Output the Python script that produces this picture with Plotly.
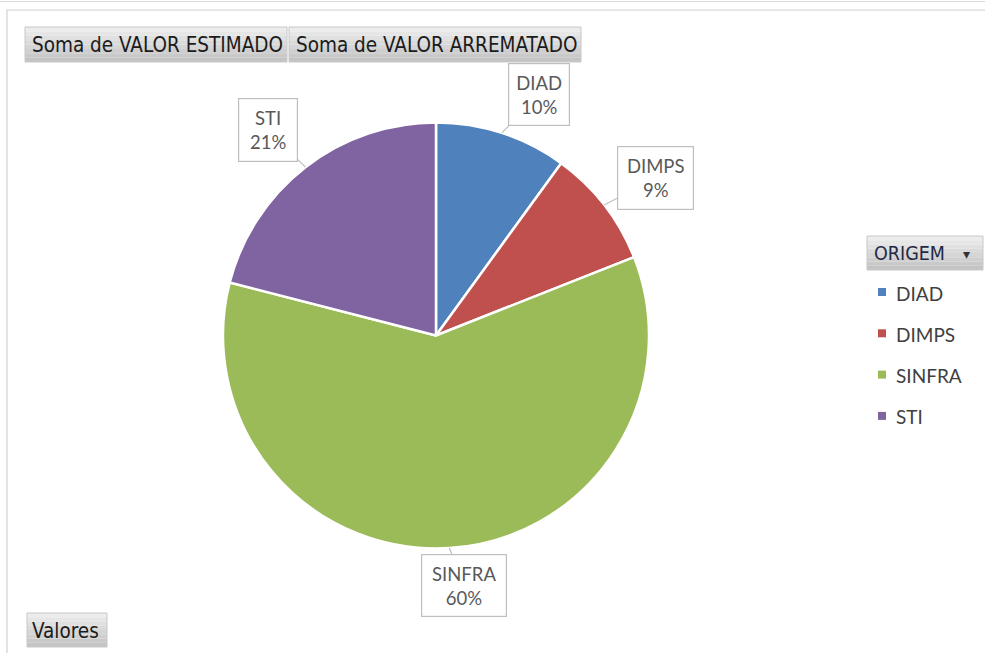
import math
import plotly.graph_objects as go

# --- data ---
categories = ["DIAD", "DIMPS", "SINFRA", "STI"]
shares = [10, 9, 60, 21]
colors = ["#4F81BD", "#C0504D", "#9BBB59", "#8064A2"]
value_fields = ["Soma de VALOR ESTIMADO", "Soma de VALOR ARREMATADO"]
legend_title = "ORIGEM"
axis_field = "Valores"

W, H = 985, 653


def px(x):
    return x / W


def py(y):
    return 1 - y / H


# pie geometry in page pixels
CX, CY, R = 436, 335.5, 213

fig = go.Figure(
    go.Pie(
        labels=categories,
        values=shares,
        marker=dict(colors=colors, line=dict(color="white", width=2.5)),
        sort=False,
        direction="clockwise",
        rotation=0,
        textinfo="none",
        hoverinfo="label+percent",
        showlegend=False,
        domain=dict(x=[px(CX - R), px(CX + R)], y=[py(CY + R), py(CY - R)]),
    )
)

shapes = []
annotations = []

# chart frame
shapes.append(dict(type="line", xref="paper", yref="paper", x0=0, x1=1,
                   y0=py(1.5), y1=py(1.5), line=dict(color="#d9d9d9", width=1)))
shapes.append(dict(type="rect", xref="paper", yref="paper", x0=px(7), x1=px(W + 5),
                   y0=py(H + 5), y1=py(10), line=dict(color="#d0d0d0", width=1.2)))

BTN_FONT = "DejaVu Sans Condensed"


def button(x0, y0, x1, y1, text, size=20.5, color="#1b1b1b", pad=5):
    # grey gradient field button, built from thin bands
    steps = 8
    top, bot = (236, 236, 236), (196, 196, 196)
    for i in range(steps):
        t = i / (steps - 1)
        c = tuple(int(top[k] + (bot[k] - top[k]) * t) for k in range(3))
        ya = y0 + (y1 - y0) * i / steps
        yb = y0 + (y1 - y0) * (i + 1) / steps
        shapes.append(dict(type="rect", xref="paper", yref="paper",
                           x0=px(x0), x1=px(x1), y0=py(yb), y1=py(ya),
                           fillcolor="rgb(%d,%d,%d)" % c, line=dict(width=0), layer="above"))
    shapes.append(dict(type="rect", xref="paper", yref="paper",
                       x0=px(x0), x1=px(x1), y0=py(y1), y1=py(y0),
                       line=dict(color="#c8c8c8", width=1), layer="above"))
    annotations.append(dict(
        xref="paper", yref="paper",
        x=px(x0 + pad), y=py((y0 + y1) / 2 + 1),
        text=text, showarrow=False, xanchor="left", yanchor="middle",
        font=dict(family=BTN_FONT, size=size, color=color)))


button(25, 27, 287, 62, value_fields[0])
button(289, 27, 581, 62, value_fields[1])
button(27, 613, 107, 647, axis_field, pad=3)
button(867, 236, 983, 270, legend_title, size=19.5, color="#1f2a44", pad=5)
annotations.append(dict(xref="paper", yref="paper", x=px(966), y=py(254),
                        text="\u25BE", showarrow=False, xanchor="center", yanchor="middle",
                        font=dict(family="DejaVu Sans", size=14, color="#333333")))

# callout labels: pointer tip on the rim at each slice's mid-angle
total = sum(shares)
box_offsets = [(37, -38), (51, -27), (15, 37), (-37, -37)]  # box centre relative to tip
box_sizes = [(62, 63), (77, 64), (86, 63), (60, 64)]
cum = 0
for cat, v, (ox, oy), (bw, bh) in zip(categories, shares, box_offsets, box_sizes):
    mid = (cum + v / 2) / total * 2 * math.pi
    cum += v
    tx = CX + R * math.sin(mid)
    ty = CY - R * math.cos(mid)
    annotations.append(dict(
        xref="paper", yref="paper", x=px(tx), y=py(ty),
        ax=ox, ay=oy, axref="pixel", ayref="pixel",
        text="%s<br>%d%%" % (cat, round(v / total * 100)),
        showarrow=True, arrowhead=0, arrowwidth=1.2, arrowcolor="#bfbfbf", standoff=0,
        width=bw - 2, height=bh - 2, borderpad=0,
        bgcolor="white", bordercolor="#bfbfbf", borderwidth=1.2,
        font=dict(family="Lato", size=18.5, color="#595959"), align="center"))

# legend entries
for i, (cat, col) in enumerate(zip(categories, colors)):
    yc = 292 + i * 41.3
    shapes.append(dict(type="rect", xref="paper", yref="paper",
                       x0=px(878), x1=px(886), y0=py(yc + 4), y1=py(yc - 4),
                       fillcolor=col, line=dict(width=0)))
    annotations.append(dict(xref="paper", yref="paper", x=px(894), y=py(yc + 1),
                            text=cat, showarrow=False, xanchor="left", yanchor="middle",
                            font=dict(family="Lato", size=19, color="#404040")))

fig.update_layout(
    width=W, height=H,
    margin=dict(l=0, r=0, t=0, b=0),
    paper_bgcolor="white",
    plot_bgcolor="white",
    shapes=shapes,
    annotations=annotations,
)

fig.write_html("out.html")
